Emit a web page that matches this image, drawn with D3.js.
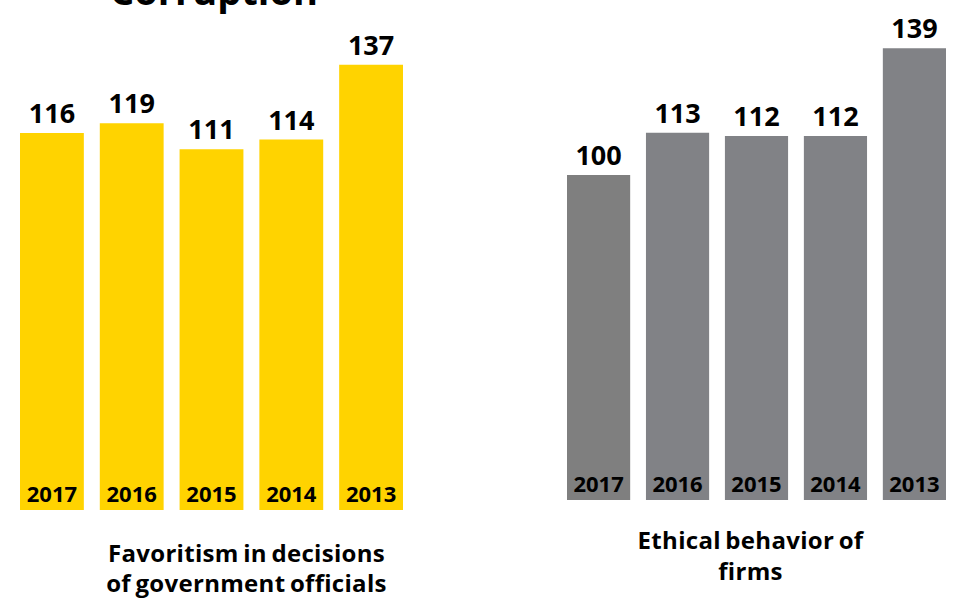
<!DOCTYPE html>
<html>
<head>
<meta charset="utf-8">
<script src="https://cdn.jsdelivr.net/npm/d3@7"></script>
<style>
html,body{margin:0;padding:0;background:#fff;}
svg{display:block;font-family:"Open Sans",Lato,sans-serif;}
</style>
</head>
<body>
<svg id="chart" width="962" height="600"></svg>
<script>
const title = "Corruption";
const years = ["2017", "2016", "2015", "2014", "2013"];
const favoritism = [116, 119, 111, 114, 137];
const ethical = [100, 113, 112, 112, 139];
const leftTitle = ["Favoritism in decisions", "of government officials"];
const rightTitle = ["Ethical behavior of", "firms"];

const svg = d3.select("#chart");

svg.append("text")
  .attr("x", 214).attr("y", 5)
  .attr("text-anchor", "middle")
  .attr("font-size", 38).attr("font-weight", 700)
  .attr("fill", "#000")
  .text(title);

function panel(values, opts) {
  const x = d3.scaleBand().domain(years).range(opts.xr).paddingInner(0.2);
  const y = d3.scaleLinear().domain([0, 140]).range([opts.base, opts.base - 455]);
  const g = svg.append("g");
  const data = years.map((yr, i) => ({year: yr, value: values[i], i}));

  g.selectAll("rect").data(data).join("rect")
    .attr("x", d => x(d.year))
    .attr("width", x.bandwidth())
    .attr("y", d => y(d.value))
    .attr("height", d => y(0) - y(d.value))
    .attr("fill", d => (opts.first && d.i === 0) ? opts.first : opts.color);

  g.selectAll("text.val").data(data).join("text")
    .attr("class", "val")
    .attr("x", d => x(d.year) + x.bandwidth() / 2)
    .attr("y", d => y(d.value) - 10)
    .attr("text-anchor", "middle")
    .attr("font-size", 27).attr("font-weight", 700)
    .attr("fill", "#000")
    .text(d => d.value);

  g.selectAll("text.yr").data(data).join("text")
    .attr("class", "yr")
    .attr("x", d => x(d.year) + x.bandwidth() / 2)
    .attr("y", y(0) - 8)
    .attr("text-anchor", "middle")
    .attr("font-size", 22).attr("font-weight", 700)
    .attr("fill", "#000")
    .text(d => d.year);

  const cx = (opts.xr[0] + opts.xr[1]) / 2 + opts.dx;
  opts.label.forEach((line, k) => {
    g.append("text")
      .attr("x", cx).attr("y", opts.ly + k * opts.lh)
      .attr("text-anchor", "middle")
      .attr("font-size", 24).attr("font-weight", 700)
      .attr("letter-spacing", 0.3)
      .attr("word-spacing", -2)
      .attr("fill", "#000")
      .text(line);
  });
}

panel(favoritism, {xr: [20, 403], base: 510, color: "#FFD300", label: leftTitle, ly: 562, lh: 30, dx: 35});
panel(ethical, {xr: [567, 946], base: 500, color: "#818286", first: "#7F7F7F", label: rightTitle, ly: 549, lh: 31, dx: -6});
</script>
</body>
</html>
